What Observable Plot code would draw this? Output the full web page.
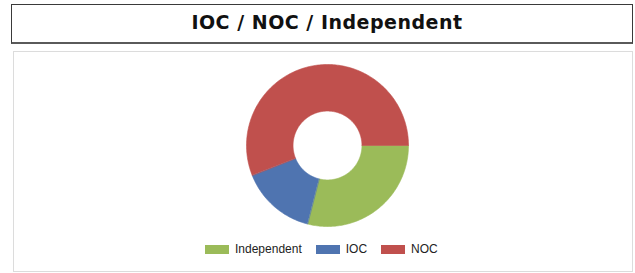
<!DOCTYPE html>
<html>
<head>
<meta charset="utf-8">
<script src="https://cdn.jsdelivr.net/npm/d3@7"></script>
<script src="https://cdn.jsdelivr.net/npm/@observablehq/plot@0.6"></script>
<style>
  html, body { margin: 0; padding: 0; background: #fff; width: 635px; height: 273px; overflow: hidden; }
  #title {
    position: absolute; left: 11px; top: 4px; width: 610px; height: 37px; padding-left: 10px;
    border: 1px solid #3a3a3a; border-bottom: 2px solid #5a5a5a;
    font-family: "DejaVu Sans", Verdana, sans-serif; font-weight: bold;
    font-size: 19px; letter-spacing: 0.5px; color: #111;
    text-align: center; line-height: 35px; box-sizing: content-box;
  }
  #panel {
    position: absolute; left: 13px; top: 51px; width: 618px; height: 219px;
    border: 1px solid #dcdcdc;
  }
  #chart { position: absolute; left: 227px; top: 55px; }
  #leg { position: absolute; left: 205px; top: 242px; }
  #leg > div { margin: 0 !important; min-height: 0 !important; }
  #leg span { margin-right: 14px !important; }
  #leg, #leg * { font-family: "Liberation Sans", Arial, sans-serif !important; font-size: 12px !important; color: #222; }
</style>
</head>
<body>
<div id="title">IOC / NOC / Independent</div>
<div id="panel"></div>
<div id="chart"></div>
<div id="leg"></div>
<script>
const categories = ["Independent", "IOC", "NOC"];
const values = [29, 15, 56];
const colors = ["#9bbb59", "#4f74b0", "#c0504d"];

const outerR = 1;
const innerR = 0.425;
const startAngle = Math.PI / 2; // clockwise from 12 o'clock

const pie = d3.pie().sort(null).startAngle(startAngle).endAngle(startAngle + 2 * Math.PI);
const arcs = pie(values);

const pts = [];
arcs.forEach((a, i) => {
  const key = categories[i];
  const n = Math.max(2, Math.ceil((a.endAngle - a.startAngle) / (Math.PI / 180)));
  for (let k = 0; k <= n; k++) {
    const t = a.startAngle + (a.endAngle - a.startAngle) * k / n;
    pts.push({key, x: outerR * Math.sin(t), y: outerR * Math.cos(t)});
  }
  for (let k = n; k >= 0; k--) {
    const t = a.startAngle + (a.endAngle - a.startAngle) * k / n;
    pts.push({key, x: innerR * Math.sin(t), y: innerR * Math.cos(t)});
  }
});

const W = 200, H = 180, unit = 81;
const plot = Plot.plot({
  width: W, height: H, margin: 0,
  x: {domain: [-W / 2 / unit, W / 2 / unit], axis: null},
  y: {domain: [-H / 2 / unit, H / 2 / unit], axis: null},
  color: {domain: categories, range: colors},
  marks: [
    Plot.line(pts, {x: "x", y: "y", z: "key", fill: "key", stroke: "key", strokeWidth: 0.6, curve: "linear-closed"})
  ]
});
document.getElementById("chart").appendChild(plot);

const legend = Plot.legend({
  color: {domain: categories, range: colors},
  swatchWidth: 24, swatchHeight: 9
});
document.getElementById("leg").appendChild(legend);
</script>
</body>
</html>
